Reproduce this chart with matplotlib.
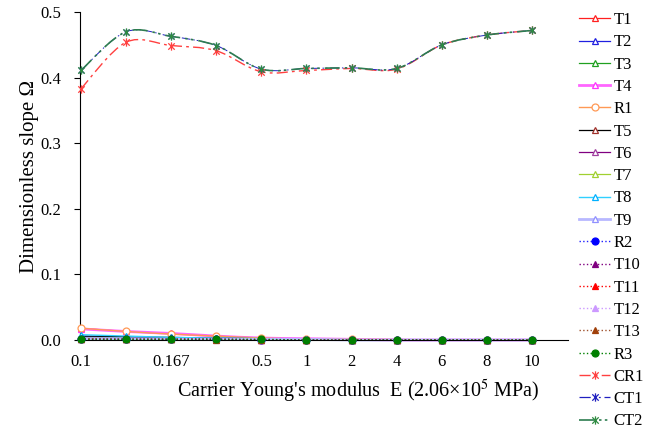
import matplotlib
matplotlib.use("Agg")
import matplotlib.pyplot as plt
from matplotlib.path import Path
from matplotlib.patches import PathPatch
from matplotlib.lines import Line2D

plt.rcParams.update({
    "font.family": ["Liberation Serif", "DejaVu Serif"],
    "mathtext.fontset": "stix",
    "font.size": 12,
})

# ── Dados ────────────────────────────────────────────────────────────────────
tick_labels = ["0.1", "", "0.167", "", "0.5", "1", "2", "4", "6", "8", "10"]

T1 = [0.018, 0.013, 0.010, 0.006, 0.003, 0.002, 0.001, 0.001, 0.0, 0.0, 0.0]
T2 = [0.005, 0.004, 0.003, 0.002, 0.001, 0.001, 0.0, 0.0, 0.0, 0.0, 0.0]
T3 = [0.004, 0.003, 0.002, 0.002, 0.001, 0.001, 0.0, 0.0, 0.0, 0.0, 0.0]
T4 = [0.017, 0.013, 0.010, 0.006, 0.003, 0.002, 0.001, 0.0, 0.0, 0.0, 0.0]
R1 = [0.018, 0.013, 0.009, 0.006, 0.003, 0.0015, 0.001, 0.0005, 0.0, 0.0, 0.0]
T5 = [0.006, 0.005, 0.004, 0.003, 0.002, 0.001, 0.0, 0.0, 0.0, 0.0, 0.0]
T6 = [0.003, 0.002, 0.002, 0.001, 0.001, 0.0, 0.0, 0.0, 0.0, 0.0, 0.0]
T7 = [0.003, 0.002, 0.002, 0.001, 0.001, 0.0, 0.0, 0.0, 0.0, 0.0, 0.0]
T8 = [0.008, 0.006, 0.004, 0.003, 0.002, 0.001, 0.0, 0.0, 0.0, 0.0, 0.0]
T9 = [0.002, 0.002, 0.001, 0.001, 0.001, 0.001, 0.0, 0.0, 0.0, 0.0, 0.0]
R2 = [0.002, 0.001, 0.001, 0.001, 0.0, 0.0, 0.0, 0.0, 0.0, 0.0, 0.0]
T10 = [0.002, 0.001, 0.001, 0.001, 0.0, 0.0, 0.0, 0.0, 0.0, 0.0, 0.0]
T11 = [0.002, 0.001, 0.001, 0.001, 0.0, 0.0, 0.0, 0.0, 0.0, 0.0, 0.0]
T12 = [0.001, 0.001, 0.001, 0.0, 0.0, 0.001, 0.0, 0.0, 0.0, 0.0, 0.0]
T13 = [0.001, 0.001, 0.001, 0.0, 0.0, 0.0, 0.0, 0.0, 0.0, 0.0, 0.0]
R3 = [0.001, 0.001, 0.001, 0.001, 0.001, 0.0, 0.0, 0.0, 0.0, 0.0, 0.0]
CR1 = [0.383, 0.454, 0.449, 0.441, 0.409, 0.411, 0.414, 0.413, 0.450, 0.465, 0.472]
CT1 = [0.411, 0.470, 0.463, 0.449, 0.413, 0.414, 0.415, 0.414, 0.450, 0.465, 0.472]
CT2 = [0.411, 0.470, 0.463, 0.449, 0.413, 0.414, 0.415, 0.414, 0.450, 0.465, 0.472]

STAR = Path([(-1, -1), (1, 1), (-1, 1), (1, -1), (0, -1.3), (0, 1.3)],
            [Path.MOVETO, Path.LINETO, Path.MOVETO, Path.LINETO, Path.MOVETO, Path.LINETO])

DASH_CT = (0, (9, 3, 1.5, 2, 1.5, 3))

# (nome, valores, cor da linha, estilo, largura, marcador, tamanho, cor do marcador, preenchido)
SERIES = [
    ("T1", T1, "#ff2020", "-", 0.8, "^", 5, "#ff2020", False),
    ("T2", T2, "#2020e0", "-", 0.8, "^", 5, "#2020e0", False),
    ("T3", T3, "#20a020", "-", 0.8, "^", 5, "#20a020", False),
    ("T4", T4, "#ff66ff", "-", 2.0, "^", 5, "#ff33ff", False),
    ("R1", R1, "#ff9955", "-", 1.0, "o", 5, "#ff9955", False),
    ("T5", T5, "#000000", "-", 0.8, "^", 5, "#a0302a", False),
    ("T6", T6, "#800080", "-", 0.8, "^", 5, "#a040a0", False),
    ("T7", T7, "#a0d030", "-", 0.8, "^", 5, "#a0d030", False),
    ("T8", T8, "#30d0ff", "-", 1.0, "^", 5, "#00b0ff", False),
    ("T9", T9, "#b8b8ff", "-", 2.0, "^", 5, "#9090ff", False),
    ("R2", R2, "#2020ff", ":", 1.0, "o", 5, "#0000ff", True),
    ("T10", T10, "#800080", ":", 1.0, "^", 5, "#800080", True),
    ("T11", T11, "#ff0000", ":", 1.0, "^", 5, "#ff0000", True),
    ("T12", T12, "#cc99ff", ":", 1.0, "^", 5, "#cc99ff", True),
    ("T13", T13, "#a0522d", ":", 1.0, "^", 5, "#a0400a", True),
    ("R3", R3, "#008000", ":", 1.0, "o", 5, "#008000", True),
    ("CR1", CR1, "#ff4040", (0, (8, 3, 2, 3)), 1.0, STAR, 6, "#ff4040", False),
    ("CT1", CT1, "#2020c0", DASH_CT, 0.7, STAR, 5, "#2020c0", False),
    ("CT2", CT2, "#2e7d50", DASH_CT, 1.2, STAR, 6, "#2e8b40", False),
]


def smooth_path(xs, ys):
    # curva suavizada estilo Excel (Bezier de Catmull-Rom) passando pelos pontos
    pts = list(zip(xs, ys))
    verts = [pts[0]]
    codes = [Path.MOVETO]
    n = len(pts)
    for i in range(n - 1):
        p0 = pts[i - 1] if i > 0 else pts[i]
        p1 = pts[i]
        p2 = pts[i + 1]
        p3 = pts[i + 2] if i + 2 < n else pts[i + 1]
        c1 = (p1[0] + (p2[0] - p0[0]) / 6, p1[1] + (p2[1] - p0[1]) / 6)
        c2 = (p2[0] - (p3[0] - p1[0]) / 6, p2[1] - (p3[1] - p1[1]) / 6)
        verts += [c1, c2, p2]
        codes += [Path.CURVE4] * 3
    return Path(verts, codes)


fig = plt.figure(figsize=(6.46, 4.32), dpi=100)
ax = fig.add_axes([0.1245, 0.213, 0.755, 0.759])

x = list(range(len(tick_labels)))
handles = []
for k, (nome, vals, cor, ls, lw, mk, ms, mcor, cheio) in enumerate(SERIES):
    ax.add_patch(PathPatch(smooth_path(x, vals), facecolor="none", edgecolor=cor,
                           linestyle=ls, linewidth=lw, zorder=2 + k * 0.01,
                           clip_on=False))
    ax.plot(x, vals, linestyle="none", marker=mk, markersize=ms,
            markeredgecolor=mcor, markerfacecolor=mcor if cheio else "white",
            markeredgewidth=0.9, zorder=3 + k * 0.01, clip_on=False)
    handles.append(Line2D([], [], color=cor, linestyle=ls, linewidth=max(lw, 0.9),
                          marker=mk, markersize=6 if mk is STAR else ms,
                          markeredgecolor=mcor,
                          markerfacecolor=mcor if cheio else "white",
                          markeredgewidth=0.9, label=nome))

ax.set_xlim(-0.01, 10.8)
ax.set_ylim(0, 0.5)
ax.set_xticks(x)
ax.set_xticklabels(tick_labels)
ax.set_yticks([0, 0.1, 0.2, 0.3, 0.4, 0.5])
ax.set_yticklabels(["0.0", "0.1", "0.2", "0.3", "0.4", "0.5"])
ax.tick_params(axis="x", length=0, pad=10, labelsize=12)
ax.tick_params(axis="y", direction="out", length=4, pad=10, labelsize=12)
for s in ["top", "right"]:
    ax.spines[s].set_visible(False)

ax.set_ylabel("Dimensionless slope Ω", fontsize=15, labelpad=1)
fig.text(0.555, 0.095, "Carrier Young's modulus  E (2.06×10$^{5}$ MPa)",
         ha="center", va="center", fontsize=14.5)

fig.legend(handles=handles, loc="upper left", bbox_to_anchor=(0.896, 0.972),
           frameon=False, fontsize=12, handlelength=1.9, handletextpad=0.2,
           labelspacing=0.378, borderaxespad=0, borderpad=0, numpoints=1)

plt.savefig("out.png", dpi=100)
plt.close()
